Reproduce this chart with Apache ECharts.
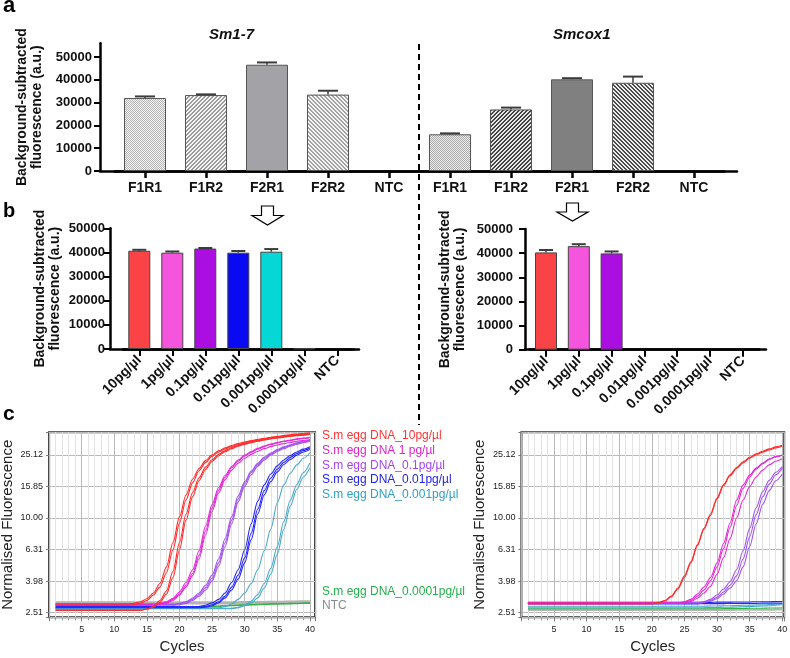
<!DOCTYPE html>
<html><head><meta charset="utf-8">
<script src="https://cdn.jsdelivr.net/npm/echarts@6/dist/echarts.min.js"></script>
<style>html,body{margin:0;padding:0;background:#fff}#c{width:790px;height:658px}</style>
</head><body><div id="c"></div>
<script>
// ---------- DATA ----------
const aCategories = ['F1R1','F1R2','F2R1','F2R2','NTC','F1R1','F1R2','F2R1','F2R2','NTC'];
const aSm17 = [32000, 33300, 46600, 33500, 0];
const aSm17Sd = [700, 300, 1000, 1700, 0];
const aSmcox1 = [16100, 27000, 40200, 38700, 0];
const aSmcox1Sd = [400, 800, 500, 2700, 0];
const aTicks = [0, 10000, 20000, 30000, 40000, 50000];

const bConc = ['10pg/µl','1pg/µl','0.1pg/µl','0.01pg/µl','0.001pg/µl','0.0001pg/µl','NTC'];
const bSm17 = [40700, 39900, 41600, 39900, 40300, 200, 0];
const bSm17Sd = [400, 500, 250, 700, 1100, 0, 0];
const bSmcox1 = [40300, 42900, 39900, 0, 0, 0, 0];
const bSmcox1Sd = [1000, 800, 800, 0, 0, 0, 0];

const seriesNames = ['S.m egg DNA_10pg/µl','S.m egg DNA 1 pg/µl','S.m egg DNA_0.1pg/µl','S.m egg DNA_0.01pg/µl','S.m egg DNA_0.001pg/µl','S.m egg DNA_0.0001pg/µl','NTC'];
const cycles = [1,2,3,4,5,6,7,8,9,10,11,12,13,14,15,16,17,18,19,20,21,22,23,24,25,26,27,28,29,30,31,32,33,34,35,36,37,38,39,40];

// left amplification plot (Sm1-7)
const redL1 = [2.85,2.85,2.85,2.85,2.85,2.85,2.85,2.85,2.85,2.85,2.85,2.85,2.88,2.95,3.08,3.35,3.85,4.9,7.0,10.2,14.0,17.6,20.6,23.1,25.1,26.6,27.8,28.8,29.6,30.3,30.9,31.5,32.0,32.5,32.9,33.3,33.7,34.0,34.3,34.6];
const redL2 = [2.8,2.8,2.8,2.8,2.8,2.8,2.8,2.8,2.8,2.8,2.8,2.8,2.82,2.88,3.0,3.25,3.65,4.5,6.3,9.3,13.0,16.7,19.9,22.5,24.6,26.2,27.4,28.4,29.2,29.9,30.6,31.2,31.7,32.2,32.6,33.0,33.4,33.7,34.0,34.3];
const redL3 = [2.6,2.6,2.6,2.6,2.6,2.6,2.6,2.6,2.6,2.6,2.6,2.6,2.6,2.6,2.65,2.75,3.0,3.45,4.6,7.0,10.6,14.5,18.0,21.0,23.4,25.3,26.7,27.9,28.8,29.6,30.3,30.9,31.4,31.9,32.3,32.7,33.1,33.4,33.7,34.0];
const redL4 = [2.62,2.62,2.62,2.62,2.62,2.62,2.62,2.62,2.62,2.62,2.62,2.62,2.62,2.62,2.64,2.72,2.92,3.3,4.2,6.3,9.7,13.6,17.2,20.3,22.8,24.8,26.3,27.5,28.5,29.3,30.0,30.6,31.2,31.7,32.1,32.5,32.9,33.2,33.5,33.8];
const magL1 = [2.85,2.85,2.85,2.85,2.85,2.85,2.85,2.85,2.85,2.85,2.85,2.85,2.85,2.85,2.85,2.85,2.88,2.95,3.1,3.4,3.9,4.7,6.2,8.9,12.2,15.6,18.6,21.2,23.3,25.0,26.4,27.6,28.6,29.4,30.1,30.7,31.2,31.7,32.1,32.5];
const magL2 = [2.82,2.82,2.82,2.82,2.82,2.82,2.82,2.82,2.82,2.82,2.82,2.82,2.82,2.82,2.82,2.82,2.86,2.92,3.05,3.3,3.75,4.45,5.8,8.3,11.6,15.0,18.1,20.8,22.9,24.7,26.1,27.3,28.3,29.2,29.9,30.5,31.0,31.5,31.9,32.3];
const magL3 = [2.8,2.8,2.8,2.8,2.8,2.8,2.8,2.8,2.8,2.8,2.8,2.8,2.8,2.8,2.8,2.8,2.82,2.88,3.0,3.25,3.65,4.3,5.5,7.8,11.0,14.4,17.5,20.1,22.2,23.9,25.3,26.5,27.5,28.3,29.0,29.6,30.1,30.6,31.0,31.4];
const purL1 = [2.85,2.85,2.85,2.85,2.85,2.85,2.85,2.85,2.85,2.85,2.85,2.85,2.85,2.85,2.85,2.85,2.85,2.85,2.85,2.88,2.95,3.1,3.35,3.75,4.35,5.5,7.4,10.2,13.8,17.0,19.8,22.2,24.2,25.8,27.1,28.2,29.1,29.9,30.6,31.2];
const purL2 = [2.83,2.83,2.83,2.83,2.83,2.83,2.83,2.83,2.83,2.83,2.83,2.83,2.83,2.83,2.83,2.83,2.83,2.83,2.83,2.85,2.92,3.05,3.28,3.62,4.15,5.2,7.0,9.7,13.2,16.5,19.4,21.8,23.8,25.4,26.8,27.9,28.8,29.6,30.3,30.9];
const purL3 = [2.8,2.8,2.8,2.8,2.8,2.8,2.8,2.8,2.8,2.8,2.8,2.8,2.8,2.8,2.8,2.8,2.8,2.8,2.8,2.82,2.88,3.0,3.2,3.5,4.0,4.95,6.6,9.2,12.6,15.9,18.8,21.3,23.3,25.0,26.4,27.5,28.5,29.3,30.0,30.6];
const bluL1 = [2.75,2.75,2.75,2.75,2.75,2.75,2.75,2.75,2.75,2.75,2.75,2.75,2.75,2.75,2.75,2.75,2.75,2.75,2.75,2.75,2.75,2.75,2.75,2.8,2.9,3.05,3.35,3.9,4.7,6.3,9.2,12.8,16.2,19.0,21.4,23.3,24.9,26.2,27.3,28.3];
const bluL2 = [2.72,2.72,2.72,2.72,2.72,2.72,2.72,2.72,2.72,2.72,2.72,2.72,2.72,2.72,2.72,2.72,2.72,2.72,2.72,2.72,2.72,2.72,2.72,2.75,2.82,2.95,3.2,3.65,4.35,5.6,8.0,11.4,14.9,17.9,20.4,22.5,24.2,25.6,26.8,27.8];
const bluL3 = [2.7,2.7,2.7,2.7,2.7,2.7,2.7,2.7,2.7,2.7,2.7,2.7,2.7,2.7,2.7,2.7,2.7,2.7,2.7,2.7,2.7,2.7,2.7,2.72,2.78,2.9,3.12,3.5,4.1,5.2,7.3,10.6,14.0,17.0,19.6,21.8,23.5,25.0,26.2,27.2];
const tealL1 = [2.7,2.7,2.7,2.7,2.7,2.7,2.7,2.7,2.7,2.7,2.7,2.7,2.7,2.7,2.7,2.7,2.7,2.7,2.7,2.7,2.7,2.7,2.7,2.7,2.7,2.7,2.75,2.85,3.05,3.35,3.85,4.7,6.2,8.5,12.5,16.2,19.2,21.7,23.9,25.9];
const tealL2 = [2.68,2.68,2.68,2.68,2.68,2.68,2.68,2.68,2.68,2.68,2.68,2.68,2.68,2.68,2.68,2.68,2.68,2.68,2.68,2.68,2.68,2.68,2.68,2.68,2.68,2.68,2.68,2.68,2.72,2.82,2.98,3.28,3.85,4.8,6.6,9.5,13.0,16.3,19.4,22.3];
const tealL3 = [2.66,2.66,2.66,2.66,2.66,2.66,2.66,2.66,2.66,2.66,2.66,2.66,2.66,2.66,2.66,2.66,2.66,2.66,2.66,2.66,2.66,2.66,2.66,2.66,2.66,2.66,2.66,2.66,2.7,2.78,2.9,3.12,3.6,4.4,5.9,8.5,11.9,15.2,18.2,20.8];
const greenL1 = [2.72,2.72,2.72,2.72,2.72,2.72,2.72,2.72,2.72,2.72,2.72,2.72,2.72,2.72,2.72,2.72,2.72,2.72,2.72,2.72,2.73,2.73,2.74,2.75,2.76,2.77,2.78,2.8,2.81,2.82,2.83,2.84,2.85,2.86,2.86,2.87,2.88,2.88,2.89,2.9];
const greenL2 = [2.68,2.68,2.68,2.68,2.68,2.68,2.68,2.68,2.68,2.68,2.68,2.68,2.68,2.68,2.68,2.68,2.69,2.69,2.7,2.7,2.71,2.72,2.73,2.74,2.75,2.76,2.77,2.78,2.79,2.8,2.81,2.82,2.83,2.84,2.85,2.86,2.86,2.87,2.88,2.88];
const grayL1 = [2.92,2.92,2.92,2.92,2.92,2.92,2.92,2.92,2.92,2.92,2.92,2.92,2.92,2.92,2.92,2.92,2.92,2.92,2.92,2.92,2.92,2.92,2.92,2.92,2.92,2.92,2.92,2.92,2.92,2.93,2.93,2.93,2.93,2.94,2.94,2.94,2.95,2.95,2.96,2.96];
const grayL2 = [2.87,2.87,2.87,2.87,2.87,2.87,2.87,2.87,2.87,2.87,2.87,2.87,2.87,2.87,2.87,2.87,2.87,2.87,2.87,2.87,2.87,2.87,2.87,2.87,2.87,2.87,2.87,2.87,2.87,2.88,2.88,2.88,2.89,2.89,2.89,2.9,2.9,2.9,2.91,2.91];

// right amplification plot (Smcox1)
const redR1 = [2.88,2.88,2.88,2.88,2.88,2.88,2.88,2.88,2.88,2.88,2.88,2.88,2.88,2.88,2.88,2.88,2.88,2.88,2.88,2.88,2.92,3.0,3.2,3.6,4.3,5.3,6.8,8.6,10.6,13.4,16.3,18.8,20.9,22.7,24.2,25.5,26.5,27.4,28.2,28.9];
const redR2 = [2.86,2.86,2.86,2.86,2.86,2.86,2.86,2.86,2.86,2.86,2.86,2.86,2.86,2.86,2.86,2.86,2.86,2.86,2.86,2.86,2.9,2.98,3.17,3.55,4.2,5.2,6.7,8.5,10.4,13.2,16.0,18.5,20.6,22.4,23.9,25.1,26.1,27.0,27.8,28.5];
const magR1 = [2.9,2.9,2.9,2.9,2.9,2.9,2.9,2.9,2.9,2.9,2.9,2.9,2.9,2.9,2.9,2.9,2.9,2.9,2.9,2.9,2.9,2.9,2.9,2.9,2.95,3.05,3.3,3.65,4.2,5.2,6.9,9.3,13.0,16.2,18.7,20.7,22.3,23.6,24.5,25.1];
const magR2 = [2.9,2.9,2.9,2.9,2.9,2.9,2.9,2.9,2.9,2.9,2.9,2.9,2.9,2.9,2.9,2.9,2.9,2.9,2.9,2.9,2.9,2.9,2.9,2.9,2.93,3.0,3.2,3.5,4.0,4.9,6.4,8.7,12.0,15.4,18.2,20.4,22.1,23.5,24.4,25.0];
const magR3 = [2.88,2.88,2.88,2.88,2.88,2.88,2.88,2.88,2.88,2.88,2.88,2.88,2.88,2.88,2.88,2.88,2.88,2.88,2.88,2.88,2.88,2.88,2.88,2.88,2.9,2.96,3.1,3.35,3.7,4.4,5.6,7.4,10.0,13.0,15.8,18.2,20.1,21.7,22.9,23.7];
const purR1 = [2.92,2.92,2.92,2.92,2.92,2.92,2.92,2.92,2.92,2.92,2.92,2.92,2.92,2.92,2.92,2.92,2.92,2.92,2.92,2.92,2.92,2.92,2.92,2.92,2.92,2.92,2.92,2.95,3.05,3.25,3.55,3.95,4.7,6.2,8.6,11.6,14.7,17.3,19.5,21.2];
const purR2 = [2.92,2.92,2.92,2.92,2.92,2.92,2.92,2.92,2.92,2.92,2.92,2.92,2.92,2.92,2.92,2.92,2.92,2.92,2.92,2.92,2.92,2.92,2.92,2.92,2.92,2.92,2.92,2.94,3.0,3.15,3.4,3.75,4.3,5.5,7.6,10.5,13.6,16.4,18.8,20.7];
const purR3 = [2.9,2.9,2.9,2.9,2.9,2.9,2.9,2.9,2.9,2.9,2.9,2.9,2.9,2.9,2.9,2.9,2.9,2.9,2.9,2.9,2.9,2.9,2.9,2.9,2.9,2.9,2.9,2.92,2.97,3.08,3.3,3.6,4.0,4.9,6.6,9.2,12.2,14.9,17.2,19.0];
const bluR1 = [2.9,2.9,2.9,2.9,2.9,2.9,2.9,2.9,2.9,2.9,2.9,2.9,2.9,2.9,2.9,2.9,2.9,2.9,2.9,2.9,2.9,2.9,2.9,2.9,2.9,2.91,2.91,2.92,2.92,2.93,2.93,2.93,2.94,2.94,2.94,2.95,2.95,2.95,2.96,2.96];
const bluR2 = [2.86,2.86,2.86,2.86,2.86,2.86,2.86,2.86,2.86,2.86,2.86,2.86,2.86,2.86,2.86,2.86,2.86,2.86,2.86,2.86,2.86,2.86,2.86,2.86,2.86,2.86,2.86,2.87,2.87,2.87,2.87,2.88,2.88,2.88,2.88,2.88,2.89,2.89,2.89,2.89];
const tealR1 = [2.76,2.76,2.76,2.76,2.76,2.76,2.76,2.76,2.76,2.76,2.76,2.76,2.76,2.76,2.76,2.76,2.76,2.76,2.76,2.76,2.76,2.76,2.76,2.76,2.76,2.76,2.76,2.76,2.77,2.77,2.78,2.78,2.79,2.8,2.8,2.81,2.82,2.83,2.84,2.85];
const tealR2 = [2.7,2.7,2.7,2.7,2.7,2.7,2.7,2.7,2.7,2.7,2.7,2.7,2.7,2.7,2.7,2.7,2.7,2.7,2.7,2.7,2.7,2.7,2.7,2.7,2.7,2.7,2.7,2.7,2.71,2.71,2.72,2.72,2.73,2.74,2.75,2.76,2.77,2.78,2.8,2.82];
const greenR1 = [2.66,2.66,2.66,2.66,2.66,2.66,2.66,2.66,2.66,2.66,2.66,2.66,2.66,2.66,2.66,2.66,2.66,2.66,2.66,2.66,2.66,2.66,2.66,2.66,2.66,2.66,2.66,2.66,2.66,2.66,2.67,2.67,2.67,2.67,2.68,2.68,2.68,2.69,2.69,2.7];
const grayR1 = [2.61,2.61,2.61,2.61,2.61,2.61,2.61,2.61,2.61,2.61,2.61,2.61,2.61,2.61,2.61,2.61,2.61,2.61,2.61,2.61,2.61,2.61,2.61,2.61,2.61,2.61,2.61,2.61,2.61,2.61,2.61,2.61,2.62,2.62,2.62,2.62,2.62,2.62,2.63,2.63];

// ---------- STYLE ----------
const FONT = 'Liberation Sans, Arial, sans-serif';
const curveColors = ['#ff2b2b','#e22ad6','#a154ee','#2424ff','#48aac8','#2fb443','#b4b4b4'];
const legendColors = ['#ff3333','#de22c8','#a444f2','#2323e6','#2f9fc6','#22b04a','#8a8a8a'];
const bColors = ['#f94346','#f455dc','#aa0ee0','#0a0af2','#05d6d6','#888','#888'];

function pattern(kind, fg, bg) {
  const c = document.createElement('canvas');
  c.width = 4; c.height = 4;
  const g = c.getContext('2d');
  g.fillStyle = bg; g.fillRect(0, 0, 4, 4);
  g.fillStyle = fg;
  for (let y = 0; y < 4; y++) for (let x = 0; x < 4; x++) {
    let on = false;
    if (kind === 'check') on = (x + y) % 2 === 0;
    else if (kind === 'up') on = (x + y) % 4 < 2;
    else if (kind === 'down') on = (x - y + 8) % 4 < 2;
    if (on) g.fillRect(x, y, 1, 1);
  }
  return { image: c, repeat: 'repeat' };
}
const aFills = [
  pattern('check', '#b4b4b4', '#f3f3f3'), pattern('up', '#9a9a9a', '#f6f6f6'), '#a3a3a7', pattern('down', '#a2a2a2', '#f6f6f6'), '#fff',
  pattern('check', '#a8a8a8', '#efefef'), pattern('up', '#444', '#e6e6e6'), '#808080', pattern('down', '#4c4c4c', '#ececec'), '#fff'
];

// ---------- OPTION ----------
const aVals = aSm17.concat(aSmcox1);
const aSds = aSm17Sd.concat(aSmcox1Sd);
const axisBlack = { lineStyle: { color: '#000', width: 2.5 } };
const yName = 'Background-subtracted\nfluorescence (a.u.)';
const yNameStyle = { fontSize: 14, fontWeight: 'bold', color: '#111', lineHeight: 15, fontFamily: FONT };

function errSeries(xi, means, sds, capW) {
  return {
    type: 'custom', xAxisIndex: xi, yAxisIndex: xi, z: 5, silent: true,
    encode: { x: 0, y: [1, 2] },
    data: means.map((m, i) => [i, m, m + sds[i]]),
    renderItem: (params, api) => {
      const m = api.value(1), u = api.value(2);
      if (!(u > m)) return;
      const p0 = api.coord([api.value(0), m]);
      const p1 = api.coord([api.value(0), u]);
      return { type: 'group', children: [
        { type: 'line', shape: { x1: p0[0], y1: p0[1], x2: p1[0], y2: p1[1] }, style: { stroke: '#3c3c3c', lineWidth: 1.5 } },
        { type: 'line', shape: { x1: p1[0] - capW / 2, y1: p1[1], x2: p1[0] + capW / 2, y2: p1[1] }, style: { stroke: '#3c3c3c', lineWidth: 2 } }
      ] };
    }
  };
}
function barYAxis(gi, offset, nameGap, labelMargin) {
  return {
    gridIndex: gi, type: 'value', min: 0, max: gi === 0 ? 56000 : 50000, interval: 10000, offset: offset,
    name: yName, nameLocation: 'middle', nameGap: nameGap, nameTextStyle: yNameStyle,
    axisLine: { show: true, lineStyle: { color: '#000', width: 2.5 } },
    axisTick: { show: true, length: 6, lineStyle: { color: '#000', width: 2 }, customValues: aTicks },
    axisLabel: { fontSize: 13, fontWeight: 'bold', color: '#111', margin: labelMargin, customValues: aTicks, fontFamily: FONT,
      formatter: v => String(Math.round(v)) },
    splitLine: { show: false }
  };
}
function lineOnlyX(gi) {
  return { gridIndex: gi, type: 'category', data: [''], axisLine: { show: true, lineStyle: { color: '#000', width: 2.5 } }, axisTick: { show: false }, axisLabel: { show: false }, splitLine: { show: false } };
}
function hiddenY(gi) { return { gridIndex: gi, type: 'value', show: false }; }
function cX(gi, max) {
  return {
    gridIndex: gi, type: 'value', min: 0, max: max, interval: 5,
    name: 'Cycles', nameLocation: 'middle', nameGap: 22, nameTextStyle: { fontSize: 15, color: '#222', fontFamily: FONT },
    axisLine: { show: false },
    axisTick: { show: true, length: 4, lineStyle: { color: '#777' } },
    minorTick: { show: true, splitNumber: 5, length: 3, lineStyle: { color: '#999' } },
    axisLabel: { fontSize: 9, color: '#222', margin: 8, fontFamily: FONT, formatter: v => (v > 0 && v % 5 === 0) ? String(v) : '' },
    splitLine: { show: true, lineStyle: { color: '#b8b8b8', width: 1 } },
    minorSplitLine: { show: true, lineStyle: { color: '#e2e2e2', width: 1 } }
  };
}
const LOGB = Math.pow(10, 0.2);
function cY(gi) {
  return {
    gridIndex: gi, type: 'log', logBase: LOGB, min: 2.35, max: 34.9,
    name: 'Normalised Fluorescence', nameLocation: 'middle', nameGap: 34, nameTextStyle: { fontSize: 15, color: '#222', fontFamily: FONT },
    axisLine: { show: false },
    axisTick: { show: true, length: 3, lineStyle: { color: '#777' } },
    axisLabel: { fontSize: 9, color: '#222', margin: 6, fontFamily: FONT,
      formatter: v => { const n = Math.log(v) / Math.log(LOGB); return Math.abs(n - Math.round(n)) < 1e-3 ? v.toFixed(2) : ''; } },
    splitLine: { show: true, lineStyle: { color: '#b8b8b8', width: 1 } }
  };
}
function curve(idx, arr, gi, width) {
  return {
    type: 'line', name: seriesNames[idx], xAxisIndex: gi, yAxisIndex: gi,
    data: cycles.map((c, i) => [c, arr[i]]), showSymbol: false, smooth: 0.3, smoothMonotone: 'x',
    lineStyle: { color: curveColors[idx], width: width || 1.1 }, itemStyle: { color: curveColors[idx] },
    silent: true, z: 3
  };
}

const leftCurves = [[6, grayL1, 2.5], [6, grayL2, 2], [5, greenL1], [5, greenL2], [4, tealL1], [4, tealL2], [4, tealL3],
  [3, bluL1], [3, bluL2], [3, bluL3], [2, purL1], [2, purL2], [2, purL3], [1, magL1], [1, magL2], [1, magL3],
  [0, redL1], [0, redL2], [0, redL3], [0, redL4]];
const rightCurves = [[6, grayR1, 2], [5, greenR1], [4, tealR1], [4, tealR2], [3, bluR1], [3, bluR2],
  [2, purR1], [2, purR2], [2, purR3], [1, magR1], [1, magR2], [1, magR3], [0, redR1], [0, redR2]];

const gridBase = { outerBoundsMode: 'none', containLabel: false };
const option = {
  animation: false,
  backgroundColor: '#fff',
  textStyle: { fontFamily: FONT },
  title: [
    { text: 'a', left: 3, top: -5, padding: 0, textStyle: { fontSize: 22, fontWeight: 'bold', color: '#000', fontFamily: FONT } },
    { text: 'b', left: 3, top: 201, padding: 0, textStyle: { fontSize: 20, fontWeight: 'bold', color: '#000', fontFamily: FONT } },
    { text: 'c', left: 3, top: 404, padding: 0, textStyle: { fontSize: 21, fontWeight: 'bold', color: '#000', fontFamily: FONT } },
    { text: 'Sm1-7', left: 209, top: 27, padding: 0, textStyle: { fontSize: 15, fontWeight: 'bold', fontStyle: 'italic', color: '#111', fontFamily: FONT } },
    { text: 'Smcox1', left: 553, top: 27, padding: 0, textStyle: { fontSize: 15, fontWeight: 'bold', fontStyle: 'italic', color: '#111', fontFamily: FONT } }
  ],
  legend: [
    { left: 317, top: 429, orient: 'vertical', icon: 'none', itemWidth: 0, itemHeight: 14, itemGap: 1.6, padding: 0, selectedMode: false,
      textStyle: { fontSize: 12, fontFamily: FONT },
      data: [0, 1, 2, 3, 4].map(i => ({ name: seriesNames[i], textStyle: { color: legendColors[i] } })) },
    { left: 317, top: 584.5, orient: 'vertical', icon: 'none', itemWidth: 0, itemHeight: 14, itemGap: 1, padding: 0, selectedMode: false,
      textStyle: { fontSize: 12, fontFamily: FONT },
      data: [5, 6].map(i => ({ name: seriesNames[i], textStyle: { color: legendColors[i] } })) }
  ],
  grid: [
    Object.assign({ left: 114.5, right: 65.5, top: 43.3, bottom: 487 }, gridBase),
    Object.assign({ left: 100, right: 53, top: 43.3, bottom: 487 }, gridBase),
    Object.assign({ left: 122.8, right: 436.2, top: 228.3, bottom: 309 }, gridBase),
    Object.assign({ left: 110, right: 431, top: 228.3, bottom: 309 }, gridBase),
    Object.assign({ left: 529.6, right: 30.8, top: 229, bottom: 308.3 }, gridBase),
    Object.assign({ left: 525, right: 24, top: 229, bottom: 308.3 }, gridBase),
    Object.assign({ left: 49.1, right: 474.9, top: 432.3, bottom: 40.7, show: true, borderColor: '#333', borderWidth: 2, backgroundColor: '#fff' }, gridBase),
    Object.assign({ left: 521.4, right: 5.8, top: 432.3, bottom: 40.7, show: true, borderColor: '#333', borderWidth: 2, backgroundColor: '#fff' }, gridBase)
  ],
  xAxis: [
    { gridIndex: 0, type: 'category', data: aCategories, axisLine: axisBlack,
      axisTick: { show: true, alignWithLabel: true, length: 7, lineStyle: { color: '#000', width: 2.5 } },
      axisLabel: { interval: 0, fontSize: 14, fontWeight: 'bold', color: '#111', margin: 10, fontFamily: FONT } },
    lineOnlyX(1),
    { gridIndex: 2, type: 'category', data: bConc, axisLine: axisBlack,
      axisTick: { show: true, alignWithLabel: true, length: 7, lineStyle: { color: '#000', width: 2 } },
      axisLabel: { interval: 0, rotate: 45, fontSize: 14, fontWeight: 'bold', color: '#111', margin: 9, fontFamily: FONT } },
    lineOnlyX(3),
    { gridIndex: 4, type: 'category', data: bConc, axisLine: axisBlack,
      axisTick: { show: true, alignWithLabel: true, length: 7, lineStyle: { color: '#000', width: 2 } },
      axisLabel: { interval: 0, rotate: 45, fontSize: 14, fontWeight: 'bold', color: '#111', margin: 9, fontFamily: FONT } },
    lineOnlyX(5),
    cX(6, 40.8),
    cX(7, 40.3)
  ],
  yAxis: [
    barYAxis(0, 14.5, 53, 8),
    hiddenY(1),
    barYAxis(2, 12.8, 47, 5),
    hiddenY(3),
    barYAxis(4, 4.6, 57, 12),
    hiddenY(5),
    cY(6),
    cY(7)
  ],
  series: [
    { type: 'bar', xAxisIndex: 0, yAxisIndex: 0, barWidth: 42, silent: true,
      data: aVals.map((v, i) => ({ value: v, itemStyle: { color: aFills[i], borderColor: '#555', borderWidth: v > 0 ? 1 : 0 } })) },
    errSeries(0, aVals, aSds, 20),
    { type: 'bar', xAxisIndex: 2, yAxisIndex: 2, barWidth: 22, silent: true,
      data: bSm17.map((v, i) => ({ value: v, itemStyle: { color: bColors[i], borderColor: '#444', borderWidth: v > 0 ? 1 : 0 } })) },
    errSeries(2, bSm17, bSm17Sd, 14),
    { type: 'bar', xAxisIndex: 4, yAxisIndex: 4, barWidth: 22, silent: true,
      data: bSmcox1.map((v, i) => ({ value: v, itemStyle: { color: bColors[i], borderColor: '#444', borderWidth: v > 0 ? 1 : 0 } })) },
    errSeries(4, bSmcox1, bSmcox1Sd, 14)
  ].concat(leftCurves.map(c => curve(c[0], c[1], 6, c[2])))
   .concat(rightCurves.map(c => curve(c[0], c[1], 7, c[2]))),
  graphic: [
    { type: 'line', shape: { x1: 419, y1: 44, x2: 419, y2: 425 }, style: { stroke: '#000', lineWidth: 2, lineDash: [6, 4] }, silent: true },
    { type: 'polygon', shape: { points: [[261.5,206],[273.5,206],[273.5,215.5],[283,215.5],[267.5,225],[252,215.5],[261.5,215.5]] }, style: { fill: '#fff', stroke: '#000', lineWidth: 1.2 }, silent: true },
    { type: 'polygon', shape: { points: [[566.5,203],[578.5,203],[578.5,212],[588,212],[572.5,221],[557,212],[566.5,212]] }, style: { fill: '#fff', stroke: '#000', lineWidth: 1.2 }, silent: true }
  ]
};
const chart = echarts.init(document.getElementById('c'), null, { renderer: 'canvas' });
chart.setOption(option);
</script></body></html>
